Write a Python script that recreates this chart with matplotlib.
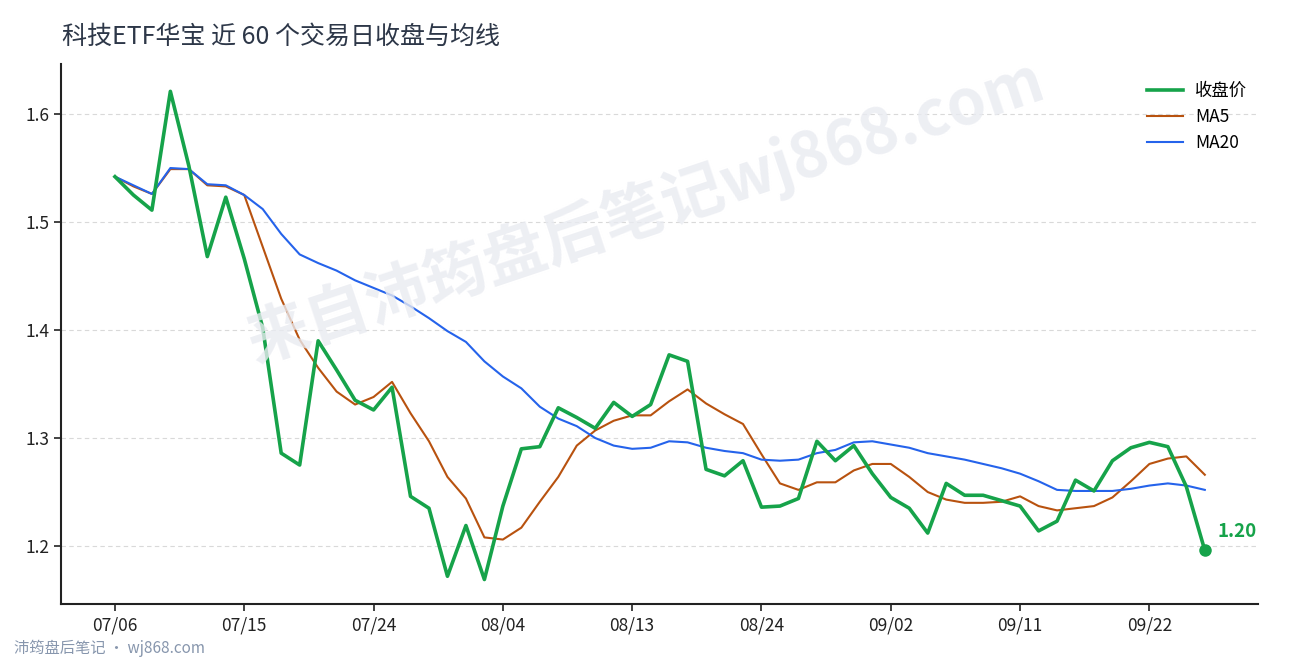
import matplotlib
matplotlib.use("Agg")
import matplotlib.pyplot as plt
import numpy as np

plt.rcParams['font.family'] = ['Noto Sans CJK SC', 'DejaVu Sans']

title = "科技ETF华宝 近 60 个交易日收盘与均线"
tick_labels = ["07/06", "07/15", "07/24", "08/04", "08/13", "08/24", "09/02", "09/11", "09/22"]
tick_positions = [0, 7, 14, 21, 28, 35, 42, 49, 56]

close = [1.542, 1.525, 1.511, 1.621, 1.552, 1.468, 1.523, 1.466, 1.402, 1.286,
         1.275, 1.390, 1.363, 1.335, 1.326, 1.347, 1.246, 1.235, 1.172, 1.219,
         1.169, 1.237, 1.290, 1.292, 1.328, 1.319, 1.309, 1.333, 1.320, 1.331,
         1.377, 1.371, 1.271, 1.265, 1.279, 1.236, 1.237, 1.244, 1.297, 1.279,
         1.293, 1.267, 1.245, 1.235, 1.212, 1.258, 1.247, 1.247, 1.242, 1.237,
         1.214, 1.223, 1.261, 1.251, 1.279, 1.291, 1.296, 1.292, 1.255, 1.196]

ma5 = [1.542, 1.533, 1.526, 1.549, 1.549, 1.534, 1.533, 1.525, 1.477, 1.429,
       1.391, 1.365, 1.343, 1.331, 1.338, 1.352, 1.323, 1.297, 1.264, 1.244,
       1.208, 1.206, 1.217, 1.241, 1.264, 1.293, 1.307, 1.316, 1.321, 1.321,
       1.334, 1.345, 1.332, 1.322, 1.313, 1.285, 1.258, 1.252, 1.259, 1.259,
       1.270, 1.276, 1.276, 1.264, 1.250, 1.243, 1.240, 1.240, 1.241, 1.246,
       1.237, 1.233, 1.235, 1.237, 1.245, 1.260, 1.276, 1.281, 1.283, 1.266]

ma20 = [1.542, 1.534, 1.526, 1.550, 1.549, 1.535, 1.534, 1.525, 1.512, 1.489,
        1.470, 1.462, 1.455, 1.446, 1.439, 1.432, 1.422, 1.411, 1.399, 1.389,
        1.371, 1.357, 1.346, 1.329, 1.318, 1.311, 1.300, 1.293, 1.290, 1.291,
        1.297, 1.296, 1.291, 1.288, 1.286, 1.280, 1.279, 1.280, 1.286, 1.289,
        1.296, 1.297, 1.294, 1.291, 1.286, 1.283, 1.280, 1.276, 1.272, 1.267,
        1.260, 1.252, 1.251, 1.251, 1.251, 1.253, 1.256, 1.258, 1.256, 1.252]

x = np.arange(len(close))

GREEN = "#16a34a"
ORANGE = "#b8520f"
BLUE = "#2563eb"

fig = plt.figure(figsize=(12.9, 6.6), dpi=100)
ax = fig.add_axes([0.0473, 0.0848, 0.9279, 0.8182])

ax.plot(x, close, color=GREEN, lw=2.6, label="收盘价", zorder=4)
ax.plot(x, ma5, color=ORANGE, lw=1.5, label="MA5", zorder=3)
ax.plot(x, ma20, color=BLUE, lw=1.5, label="MA20", zorder=3)

ax.plot([x[-1]], [close[-1]], 'o', color=GREEN, ms=8, zorder=5)
ax.annotate(f"{close[-1]:.2f}", xy=(x[-1], close[-1]), xytext=(9, 7),
            textcoords="offset points", color=GREEN, fontsize=13.5, fontweight='bold',
            ha='left', va='bottom')

ax.set_xlim(-2.92, 61.88)
ax.set_ylim(1.1463, 1.6463)
ax.set_xticks(tick_positions)
ax.set_xticklabels(tick_labels)
ax.set_yticks([1.2, 1.3, 1.4, 1.5, 1.6])
ax.set_yticklabels(["1.2", "1.3", "1.4", "1.5", "1.6"])
ax.tick_params(axis='both', labelsize=12.5, colors='#222222', length=5, width=1.2)
ax.tick_params(axis='x', pad=4)

ax.grid(axis='y', color='#d9d9d9', linestyle=(0, (4, 3)), linewidth=0.8)
ax.set_axisbelow(True)
for s in ['top', 'right']:
    ax.spines[s].set_visible(False)
for s in ['left', 'bottom']:
    ax.spines[s].set_linewidth(1.5)
    ax.spines[s].set_color('#222222')

leg = ax.legend(loc='upper right', frameon=False, fontsize=12.5, handlelength=2.1,
                bbox_to_anchor=(1.0, 0.986), labelspacing=0.45, handletextpad=0.7,
                borderaxespad=0.2)

fig.text(0.0481, 0.944, title, fontsize=18, color='#2d3748', ha='left', va='center')

fig.text(0.50, 0.68, "来自沛筠盘后笔记wj868.com", fontsize=45, fontweight='bold',
         color='#e9ebf1', rotation=18.5, ha='center', va='center', zorder=0, alpha=0.8)

fig.text(0.0109, 0.018, "沛筠盘后笔记 · wj868.com", fontsize=11, color='#8796ad',
         ha='left', va='center')

fig.savefig("out.png", dpi=100)
